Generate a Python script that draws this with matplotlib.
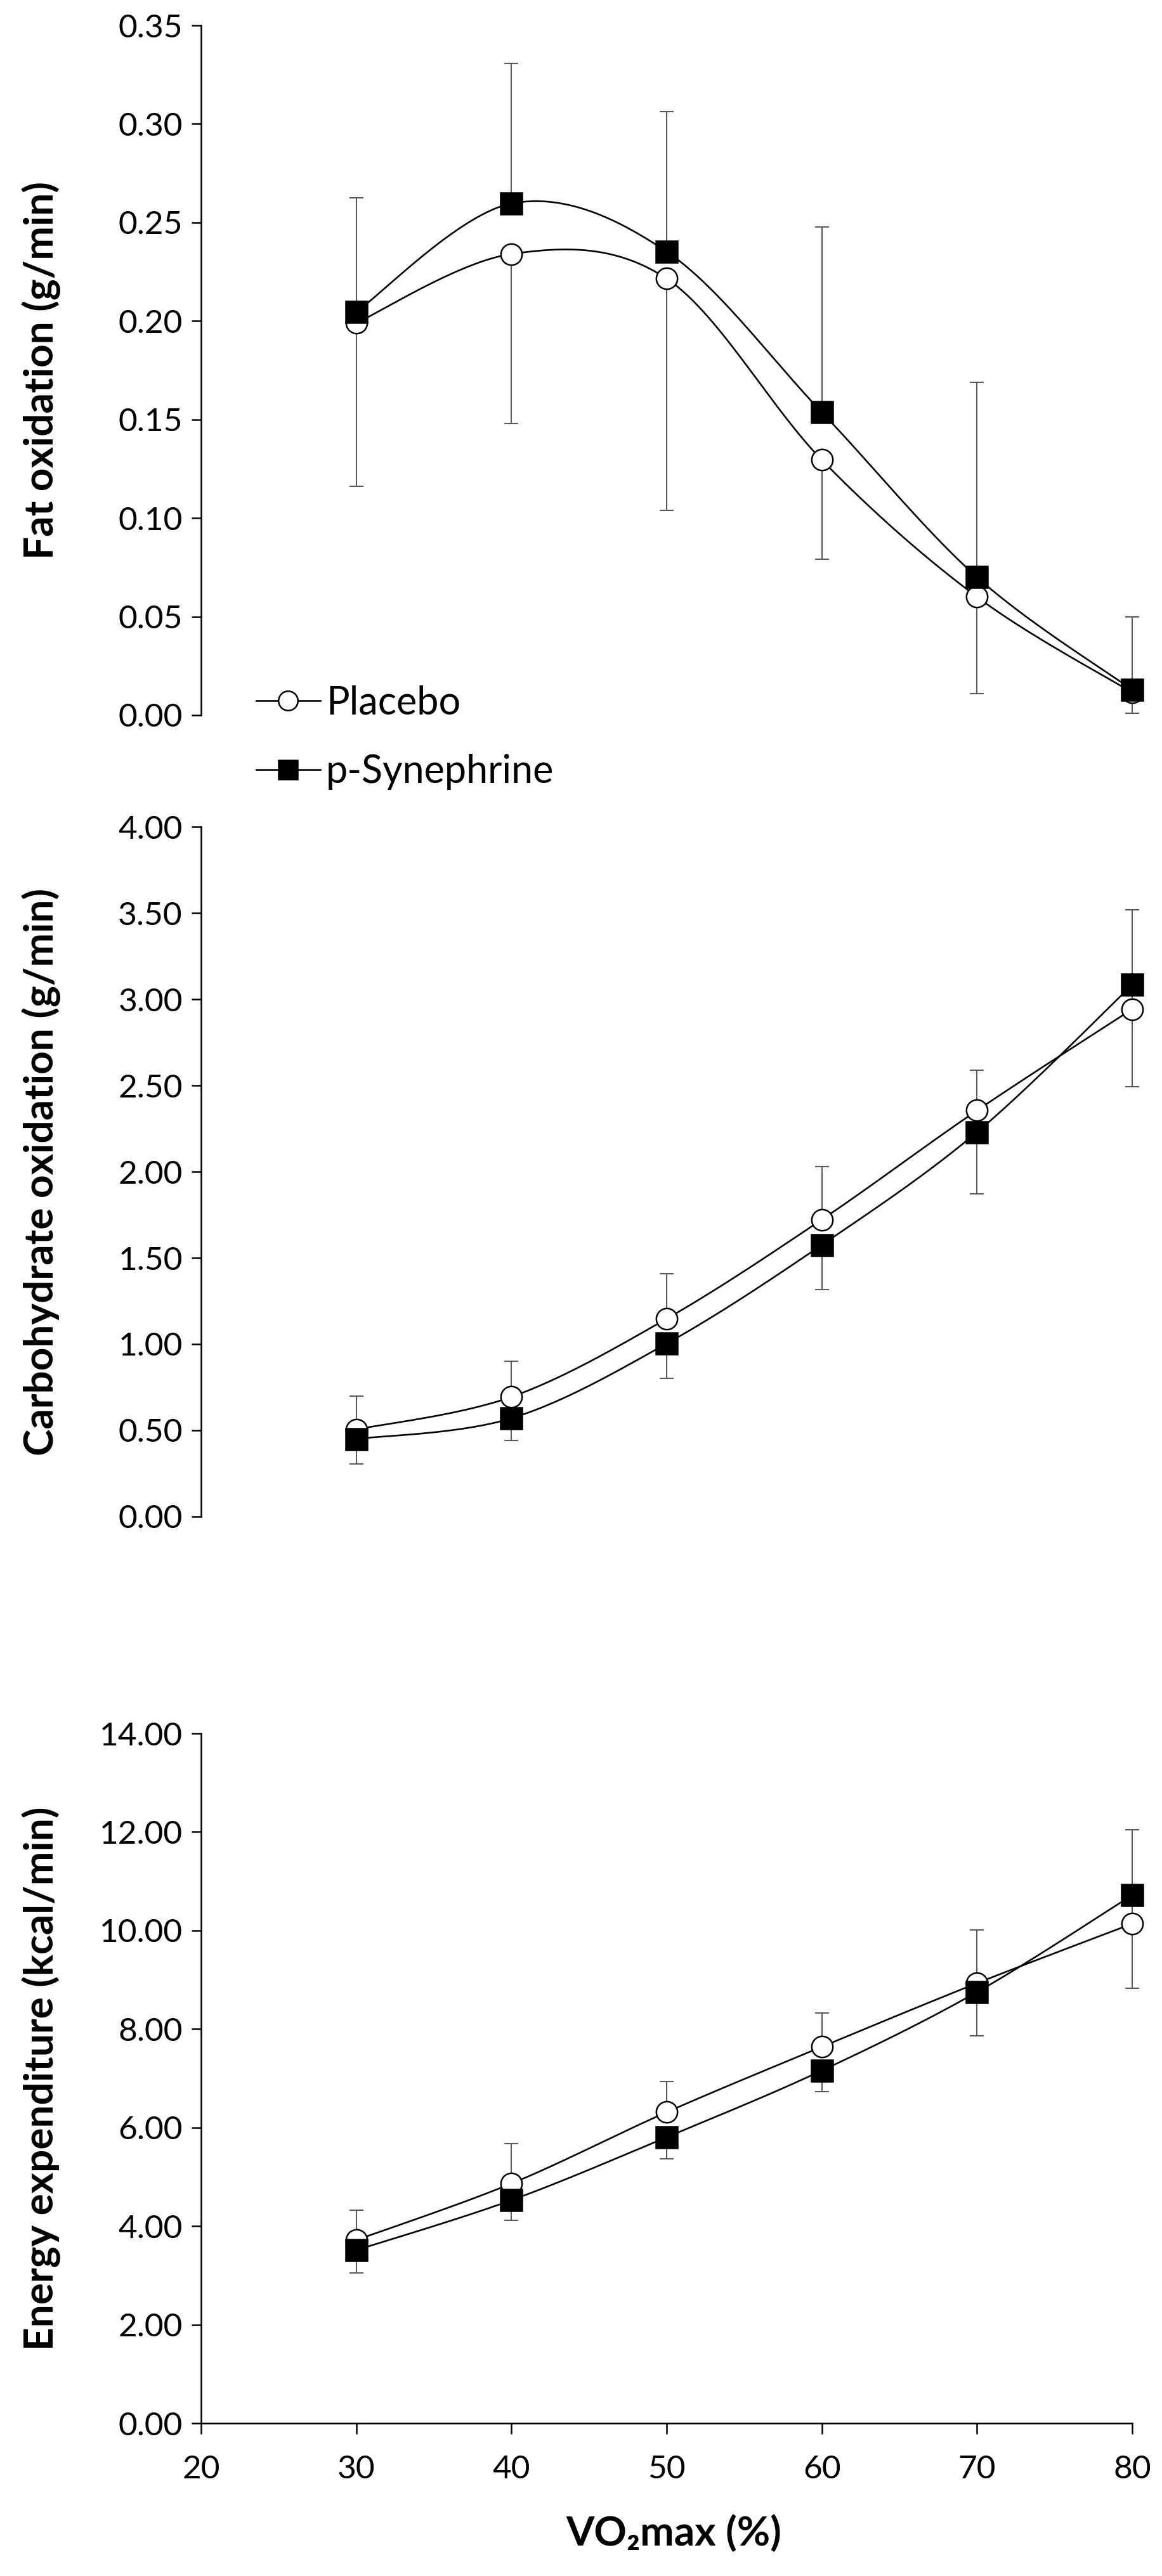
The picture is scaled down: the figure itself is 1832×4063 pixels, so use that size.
import numpy as np
import matplotlib
matplotlib.use("Agg")
import matplotlib.pyplot as plt
from matplotlib.lines import Line2D

plt.rcParams['font.family'] = ['Lato', 'DejaVu Sans']

# ---------------- data ----------------
vo2 = [30, 40, 50, 60, 70, 80]

fat_placebo = [0.199, 0.234, 0.2215, 0.1295, 0.060, 0.0115]
fat_syn = [0.2046, 0.2596, 0.2352, 0.1537, 0.070, 0.0129]
fat_syn_err_up = [0.058, 0.071, 0.071, 0.094, 0.099, 0.037]
fat_placebo_err_dn = [0.083, 0.086, 0.1175, 0.0505, 0.049, 0.0105]

cho_placebo = [0.505, 0.694, 1.147, 1.722, 2.355, 2.942]
cho_syn = [0.450, 0.570, 1.003, 1.575, 2.229, 3.083]
cho_placebo_err_up = [0.192, 0.208, 0.260, 0.306, 0.232, 0.575]
cho_syn_err_dn = [0.144, 0.130, 0.202, 0.260, 0.357, 0.591]

ee_placebo = [3.717, 4.864, 6.312, 7.639, 8.930, 10.137]
ee_syn = [3.512, 4.526, 5.805, 7.157, 8.750, 10.717]
ee_placebo_err_up = [0.603, 0.808, 0.628, 0.688, 1.087, 1.907]
ee_syn_err_dn = [0.459, 0.411, 0.435, 0.423, 0.893, 1.895]

x_ticks = [20, 30, 40, 50, 60, 70, 80]
fat_ticks = [0.00, 0.05, 0.10, 0.15, 0.20, 0.25, 0.30, 0.35]
cho_ticks = [0.00, 0.50, 1.00, 1.50, 2.00, 2.50, 3.00, 3.50, 4.00]
ee_ticks = [0.00, 2.00, 4.00, 6.00, 8.00, 10.00, 12.00, 14.00]

labels = ["Placebo", "p-Synephrine"]
ylabels = ["Fat oxidation (g/min)", "Carbohydrate oxidation (g/min)",
           "Energy expenditure (kcal/min)"]
xlabel = "VO\u2082max (%)"


def smooth(xs, ys, n=60):
    """Excel-like smoothed line (Catmull-Rom Bezier)."""
    xs = np.asarray(xs, float)
    ys = np.asarray(ys, float)
    P = np.column_stack([xs, ys])
    m = len(P)
    out = []
    for i in range(m - 1):
        p0 = P[i - 1] if i > 0 else P[i]
        p1 = P[i]
        p2 = P[i + 1]
        p3 = P[i + 2] if i + 2 < m else P[i + 1]
        c1 = p1 + (p2 - p0) / 6.0
        c2 = p2 - (p3 - p1) / 6.0
        t = np.linspace(0, 1, n)[:, None]
        seg = ((1 - t) ** 3) * p1 + 3 * ((1 - t) ** 2) * t * c1 + \
            3 * (1 - t) * t ** 2 * c2 + t ** 3 * p2
        if i > 0:
            seg = seg[1:]
        out.append(seg)
    out = np.vstack(out)
    return out[:, 0], out[:, 1]


W, H = 1833, 4063
fig = plt.figure(figsize=(W / 100, H / 100), dpi=100)

left = 317 / W
width = 1468 / W
ax_h = 1088 / H
tops = [40, 1304, 2734]

TICK_FS = 37
LABEL_FS = 46
LW = 1.9
MS = 24
MEW = 1.8
ERR_COLOR = '#5a5a5a'

panels = [
    (fat_placebo, fat_syn, fat_syn_err_up, fat_placebo_err_dn, fat_ticks, 'syn_up'),
    (cho_placebo, cho_syn, cho_placebo_err_up, cho_syn_err_dn, cho_ticks, 'pla_up'),
    (ee_placebo, ee_syn, ee_placebo_err_up, ee_syn_err_dn, ee_ticks, 'pla_up'),
]

axes = []
for k, (pla, syn, e_up, e_dn, yt, mode) in enumerate(panels):
    bottom = 1 - (tops[k] + 1088) / H
    ax = fig.add_axes([left, bottom, width, ax_h])
    axes.append(ax)

    zeros = np.zeros(len(vo2))
    eb = dict(fmt='none', ecolor=ERR_COLOR, elinewidth=1.5, capsize=8,
              capthick=1.5, zorder=2, clip_on=False)
    if mode == 'syn_up':
        ax.errorbar(vo2, syn, yerr=[zeros, e_up], **eb)
        ax.errorbar(vo2, pla, yerr=[e_dn, zeros], **eb)
    else:
        ax.errorbar(vo2, pla, yerr=[zeros, e_up], **eb)
        ax.errorbar(vo2, syn, yerr=[e_dn, zeros], **eb)

    sx, sy = smooth(vo2, pla)
    ax.plot(sx, sy, color='black', lw=LW, zorder=3, clip_on=False)
    sx, sy = smooth(vo2, syn)
    ax.plot(sx, sy, color='black', lw=LW, zorder=3, clip_on=False)

    ax.plot(vo2, pla, linestyle='none', marker='o', ms=MS, mfc='white',
            mec='black', mew=MEW, zorder=4, clip_on=False)
    ax.plot(vo2, syn, linestyle='none', marker='s', ms=MS, mfc='black',
            mec='black', mew=MEW, zorder=5, clip_on=False)

    ax.set_xlim(20, 80)
    ax.set_ylim(yt[0], yt[-1])
    ax.set_yticks(yt)
    ax.set_yticklabels(["%.2f" % v for v in yt])
    for s in ['top', 'right']:
        ax.spines[s].set_visible(False)
    ax.spines['left'].set_linewidth(1.8)
    ax.spines['bottom'].set_linewidth(1.8)
    ax.tick_params(axis='y', direction='out', length=11, width=1.8,
                   labelsize=TICK_FS, pad=10)
    if k < 2:
        ax.spines['bottom'].set_visible(False)
        ax.set_xticks([])
    else:
        ax.set_xticks(x_ticks)
        ax.set_xticklabels([str(v) for v in x_ticks])
        ax.tick_params(axis='x', direction='out', length=12, width=1.8,
                       labelsize=TICK_FS, pad=24)
        ax.set_xlabel(xlabel, fontsize=LABEL_FS, fontweight='bold', va='center')
        ax.xaxis.set_label_coords((1062 - 317) / 1468, (3822 - 3995) / 1088)
    ax.set_ylabel(ylabels[k], fontsize=LABEL_FS, fontweight='bold', va='center')
    ax.yaxis.set_label_coords((65 - 317) / 1468, 0.5)
    ax.patch.set_visible(False)

# legend in the top panel
h1 = Line2D([], [], color='black', lw=LW, marker='o', ms=22, mfc='white',
            mec='black', mew=MEW)
h2 = Line2D([], [], color='black', lw=LW, marker='s', ms=21, mfc='black',
            mec='black', mew=MEW)
axes[0].legend([h1, h2], labels, loc='center left',
               bbox_to_anchor=((404 - 317) / 1468, (1128 - 1163) / 1088),
               frameon=False, fontsize=44, handlelength=1.65,
               handletextpad=0.15, labelspacing=0.85, borderpad=0,
               borderaxespad=0)

fig.savefig("out.png", dpi=100)
